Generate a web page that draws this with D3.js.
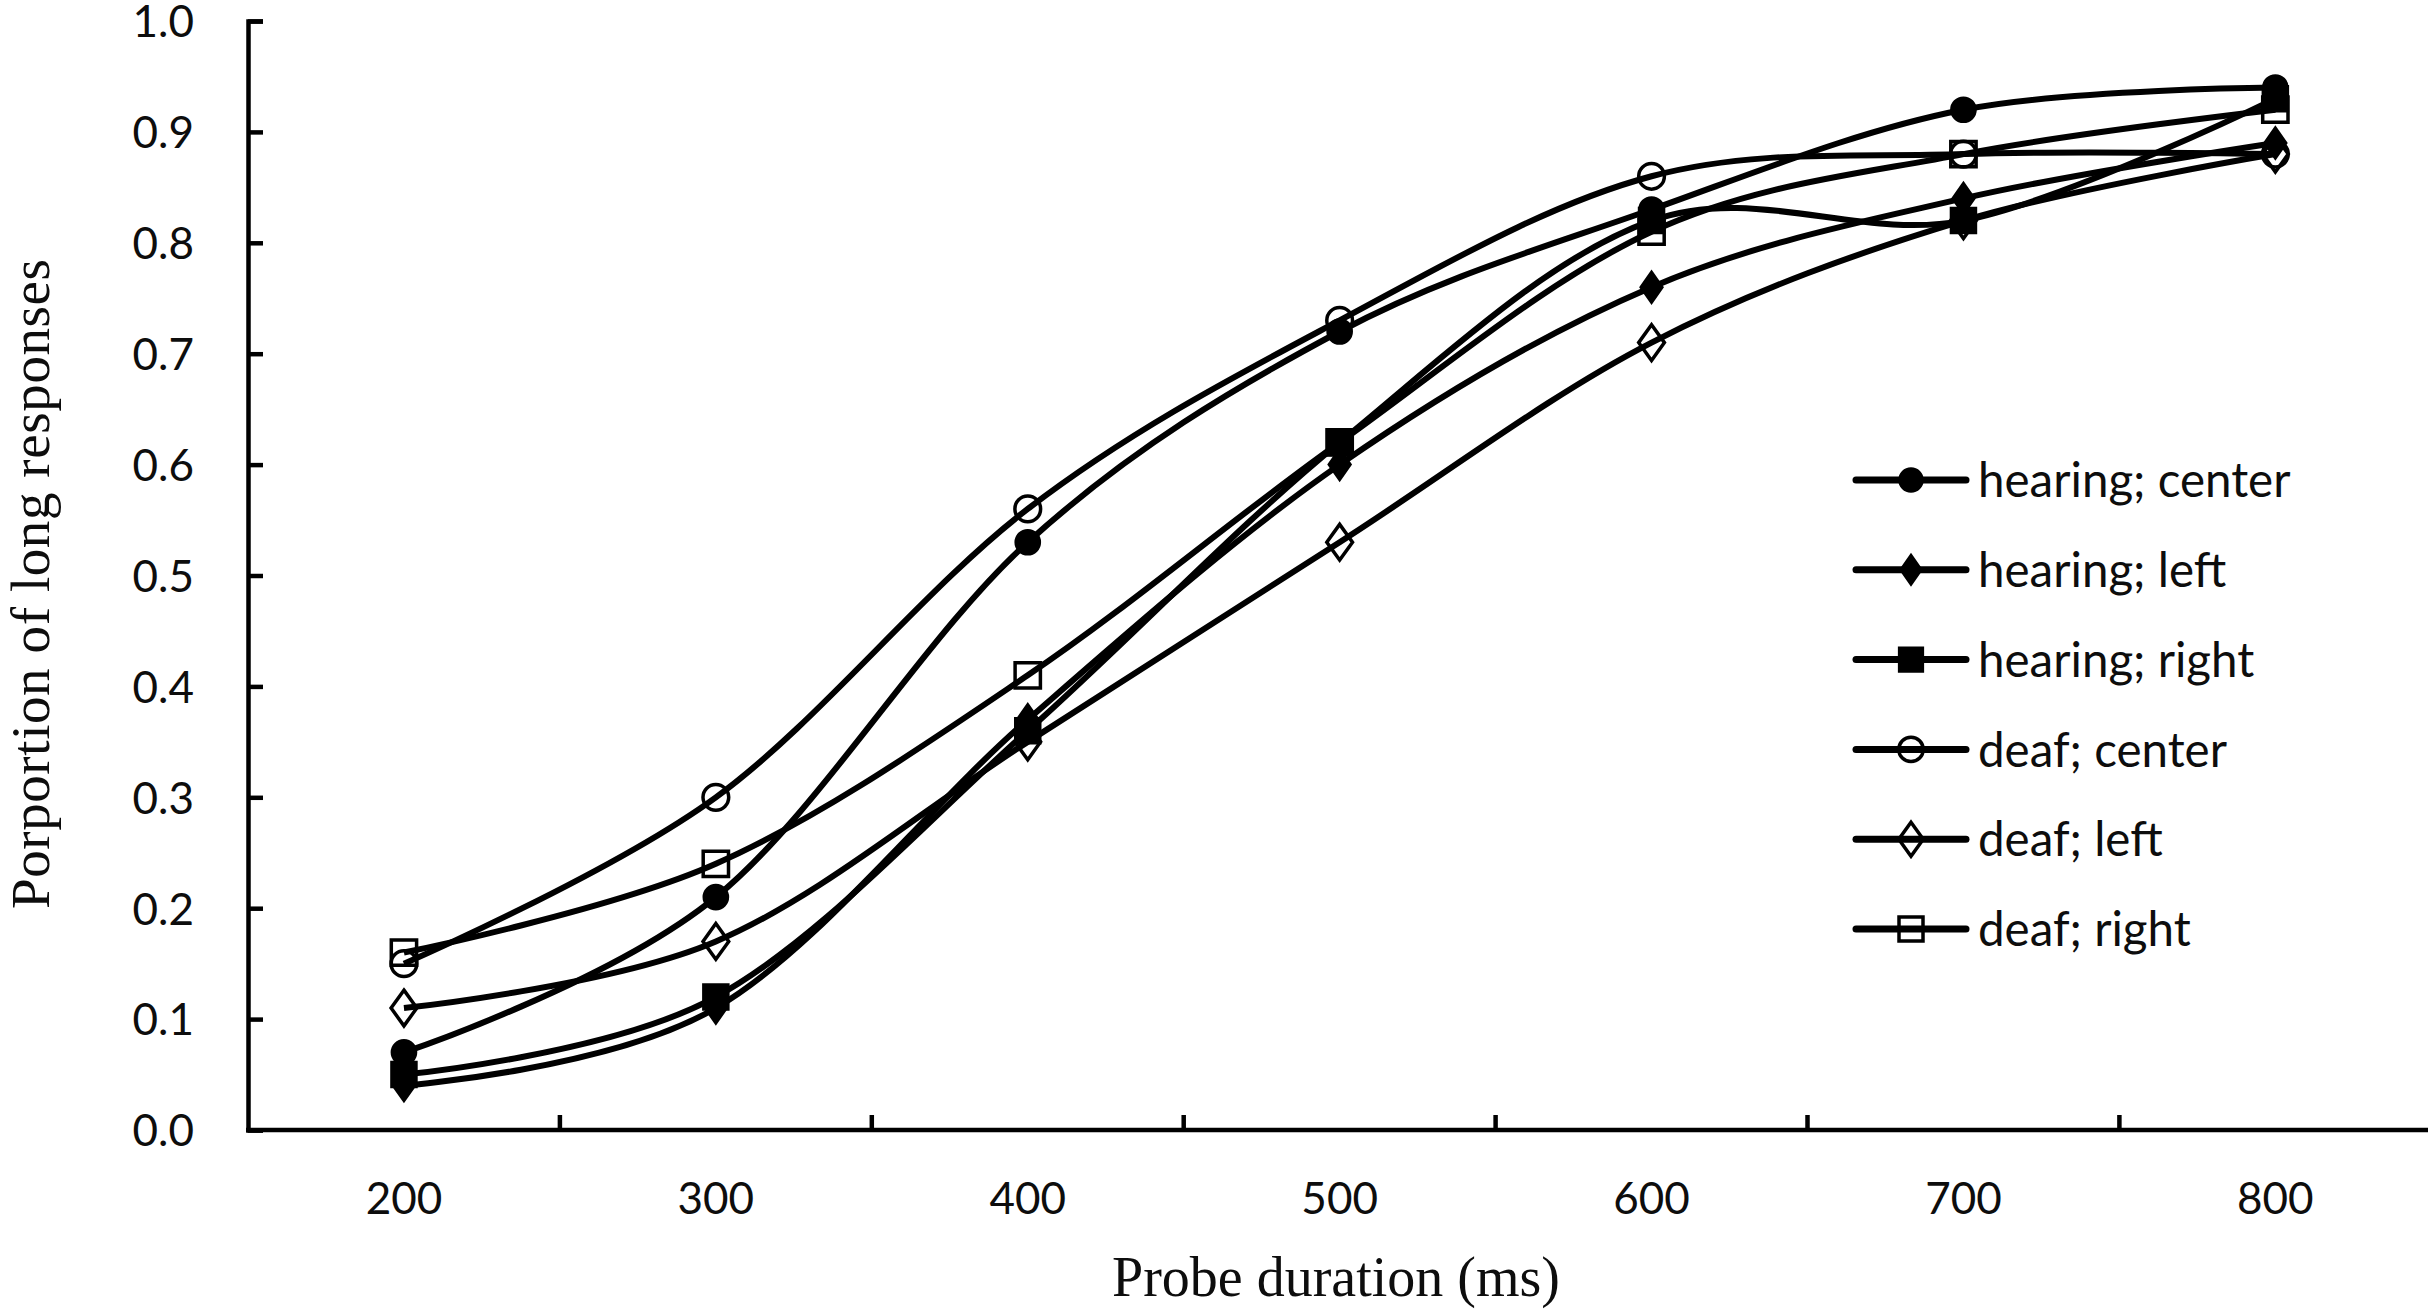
<!DOCTYPE html>
<html>
<head>
<meta charset="utf-8">
<script src="https://cdn.jsdelivr.net/npm/d3@7"></script>
<style>
  html, body { margin: 0; padding: 0; background: #fff; }
  svg { display: block; }
</style>
</head>
<body>
<svg id="chart" width="2428" height="1311"></svg>
<script>
// ---- data ----
const categories = ["200", "300", "400", "500", "600", "700", "800"];
const seriesNames = ["hearing; center", "hearing; left", "hearing; right", "deaf; center", "deaf; left", "deaf; right"];
const hearingCenter = [0.07, 0.21, 0.53, 0.72, 0.83, 0.92, 0.94];
const hearingLeft   = [0.04, 0.11, 0.37, 0.60, 0.76, 0.84, 0.89];
const hearingRight  = [0.05, 0.12, 0.36, 0.62, 0.82, 0.82, 0.93];
const deafCenter    = [0.15, 0.30, 0.56, 0.73, 0.86, 0.88, 0.88];
const deafLeft      = [0.11, 0.17, 0.35, 0.53, 0.71, 0.82, 0.88];
const deafRight     = [0.16, 0.24, 0.41, 0.62, 0.81, 0.88, 0.92];
const yTicks = [0, 0.1, 0.2, 0.3, 0.4, 0.5, 0.6, 0.7, 0.8, 0.9, 1.0];
const xTitle = "Probe duration (ms)";
const yTitle = "Porportion of long responses";

// ---- marker definitions ----
const diamondShape = (ratio) => ({
  draw(ctx, size) {
    const h = Math.sqrt(size / (2 * ratio));
    const w = h * ratio;
    ctx.moveTo(0, -h); ctx.lineTo(w, 0); ctx.lineTo(0, h); ctx.lineTo(-w, 0); ctx.closePath();
  }
});
const markerStyles = [
  { type: d3.symbolCircle, size: 440, fill: "#000", sw: 3 },
  { type: diamondShape(0.7), size: 320, fill: "#000", sw: 3 },
  { type: d3.symbolSquare, size: 600, fill: "#000", sw: 3 },
  { type: d3.symbolCircle, size: 520, fill: "none", sw: 3.5 },
  { type: diamondShape(0.72), size: 460, fill: "none", sw: 3.5 },
  { type: d3.symbolSquare, size: 640, fill: "none", sw: 3.5 }
];
const seriesValues = [hearingCenter, hearingLeft, hearingRight, deafCenter, deafLeft, deafRight];
const series = seriesNames.map((name, i) => ({ name, values: seriesValues[i], style: markerStyles[i] }));

// ---- scales ----
const svg = d3.select("#chart");
const plotLeft = 248, catWidth = 311.9;
const x = d3.scaleBand().domain(categories).range([plotLeft, plotLeft + catWidth * categories.length]);
const xc = c => x(c) + x.bandwidth() / 2;
const y = d3.scaleLinear().domain([0, 1]).range([1130, 21]);

const tickFont = "Lato, 'Open Sans', sans-serif";
const serifFont = "'Liberation Serif', 'Times New Roman', serif";
const ink = "#0d0d0d";

// ---- axes ----
const gy = svg.append("g").attr("transform", `translate(${plotLeft},0)`)
  .call(d3.axisRight(y).tickValues(yTicks).tickSize(15).tickFormat(d3.format(".1f")));
gy.select(".domain").attr("stroke", "#000").attr("stroke-width", 4.5);
gy.selectAll(".tick line").attr("stroke", "#000").attr("stroke-width", 4.5);
gy.selectAll(".tick text")
  .attr("x", -54).attr("text-anchor", "end").attr("dy", "0.36em")
  .attr("font-family", tickFont).attr("font-size", 44).attr("fill", ink);

// x axis: line + ticks at category boundaries
const xAxisY = y(0);
const gx = svg.append("g");
gx.append("line")
  .attr("x1", plotLeft - 2).attr("x2", 2428)
  .attr("y1", xAxisY).attr("y2", xAxisY)
  .attr("stroke", "#000").attr("stroke-width", 4.5);
gx.selectAll("line.tick").data(categories.slice(1)).join("line")
  .attr("class", "tick")
  .attr("x1", d => x(d)).attr("x2", d => x(d))
  .attr("y1", xAxisY).attr("y2", xAxisY - 15)
  .attr("stroke", "#000").attr("stroke-width", 4.5);
gx.selectAll("text").data(categories).join("text")
  .attr("x", d => xc(d)).attr("y", 1198).attr("dy", "0.36em")
  .attr("text-anchor", "middle")
  .attr("font-family", tickFont).attr("font-size", 44).attr("fill", ink)
  .text(d => d);

// titles
svg.append("text")
  .attr("x", 1336).attr("y", 1296)
  .attr("text-anchor", "middle")
  .attr("font-family", serifFont).attr("font-size", 56).attr("fill", ink)
  .text(xTitle);
svg.append("text")
  .attr("transform", "translate(49,584) rotate(-90)")
  .attr("text-anchor", "middle")
  .attr("font-family", serifFont).attr("font-size", 55).attr("fill", ink)
  .attr("textLength", 650).attr("lengthAdjust", "spacing")
  .text(yTitle);

// ---- lines ----
const line = d3.line()
  .x((d, i) => xc(categories[i]))
  .y(d => y(d))
  .curve(d3.curveCatmullRom.alpha(0));

const symbolGen = d3.symbol();
series.forEach(s => {
  const g = svg.append("g");
  g.append("path")
    .attr("d", line(s.values))
    .attr("fill", "none").attr("stroke", "#000").attr("stroke-width", 6)
    .attr("stroke-linejoin", "round");
  g.selectAll("path.mk").data(s.values).join("path")
    .attr("class", "mk")
    .attr("transform", (d, i) => `translate(${xc(categories[i])},${y(d)})`)
    .attr("d", symbolGen.type(s.style.type).size(s.style.size)())
    .attr("fill", s.style.fill)
    .attr("stroke", "#000").attr("stroke-width", s.style.sw);
});

// ---- legend ----
const legendY0 = 480, legendStep = 89.8;
const lg = svg.append("g");
series.forEach((s, i) => {
  const yy = legendY0 + i * legendStep;
  lg.append("line")
    .attr("x1", 1856).attr("x2", 1966).attr("y1", yy).attr("y2", yy)
    .attr("stroke", "#000").attr("stroke-width", 7).attr("stroke-linecap", "round");
  lg.append("path")
    .attr("transform", `translate(1911,${yy})`)
    .attr("d", d3.symbol().type(s.style.type).size(s.style.size * 0.9)())
    .attr("fill", s.style.fill)
    .attr("stroke", "#000").attr("stroke-width", s.style.sw);
  lg.append("text")
    .attr("x", 1978).attr("y", yy).attr("dy", "0.36em")
    .attr("font-family", tickFont).attr("font-size", 47.5).attr("fill", ink)
    .text(s.name);
});
</script>
</body>
</html>
